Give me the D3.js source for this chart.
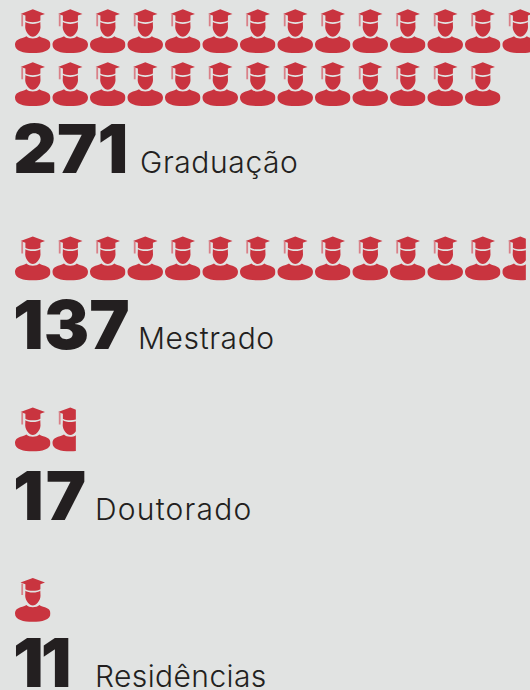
<!DOCTYPE html>
<html><head><meta charset="utf-8">
<style>html,body{margin:0;padding:0;background:#e1e3e2;overflow:hidden}svg{display:block}
.num{font-family:Inter,"Open Sans",sans-serif;font-weight:900;fill:#231f20}
.lab{font-family:Inter,"Open Sans",sans-serif;font-weight:300;fill:#231f20}</style>
<script src="https://cdn.jsdelivr.net/npm/d3@7"></script></head><body>
<svg id="c" width="530" height="690"></svg>
<script>
const categories = ["Graduação","Mestrado","Doutorado","Residências"];
const values = [271,137,17,11];
const valueLabels = ["271","137","17","11"];
const unitsPerIcon = 10;
const iconsPerRow = 14;

const W=530,H=690,iconW=35.5,iconH=44,pitch=37.5,rowPitch=53;
const layout=[
 {iconTop:9.3,base:173,labX:140,numSpace:0,labSpace:.6},
 {iconTop:236.5,base:349,labX:138,numSpace:0,labSpace:.6},
 {iconTop:407.5,base:520,labX:95,numSpace:2,labSpace:1.2},
 {iconTop:578,base:687,labX:95,numSpace:-3,labSpace:.4}];
const svg=d3.select("#c");
svg.append("rect").attr("width",W).attr("height",H).attr("fill","#e1e3e2");
const defs=svg.append("defs");
const sym=defs.append("symbol").attr("id","grad").attr("overflow","visible");
// body
sym.append("path").attr("fill","#c9343f").attr("d","M0,35.5 C0,31 3.5,29.8 9.5,28 L11.5,27 C14,30 21.5,30 24.3,27 L26,28 C32,29.8 35.5,31 35.5,35.5 C35.5,42 27,43.8 17.8,43.8 C8.5,43.8 0,42 0,35.5 Z");
// face
sym.append("path").attr("fill","#c9343f").attr("d","M10.4,12.8 C13,15.2 22.8,15.2 25.3,12.8 L25.5,18 C25.4,22.5 21.2,27.5 17.8,27.5 C14.4,27.5 10.4,22.5 10.2,18 Z");
// cap
sym.append("path").attr("fill","#c9343f").attr("d","M5.5,4.6 L17.8,0 L30,4.6 L25.4,6.3 L25.4,11.2 C22,13.4 13.5,13.4 10.4,11.2 L10.4,6.3 Z");
// tassel
sym.append("rect").attr("x",6.3).attr("y",5.5).attr("width",1.8).attr("height",11.5).attr("fill","#d98088");

layout.forEach((l,i)=>{
  const n=values[i]/unitsPerIcon, whole=Math.floor(n), frac=n-whole;
  const parts=d3.range(whole).map(()=>1);
  if(frac>=0.2) parts.push(frac);
  const x=d3.scaleLinear().domain([0,1]).range([15,15+pitch]);
  const g=svg.append("g");
  parts.forEach((f,k)=>{
    const col=k%iconsPerRow,row=Math.floor(k/iconsPerRow);
    const px=x(col),py=l.iconTop+row*rowPitch;
    const id=`clip${i}-${k}`;
    defs.append("clipPath").attr("id",id).append("rect").attr("x",px-1).attr("y",py-1).attr("width",iconW*f+1-(f<1?1.5:0)).attr("height",iconH+2);
    g.append("g").attr("clip-path",`url(#${id})`).append("use").attr("href","#grad").attr("x",px).attr("y",py).attr("width",iconW).attr("height",iconH);
  });
  svg.append("text").attr("class","num").attr("x",13).attr("y",l.base).attr("font-size",68).attr("letter-spacing",l.numSpace).text(valueLabels[i]);
  svg.append("text").attr("class","lab").attr("x",l.labX).attr("y",l.base).attr("font-size",30).attr("letter-spacing",l.labSpace).text(categories[i]);
});
</script></body></html>
